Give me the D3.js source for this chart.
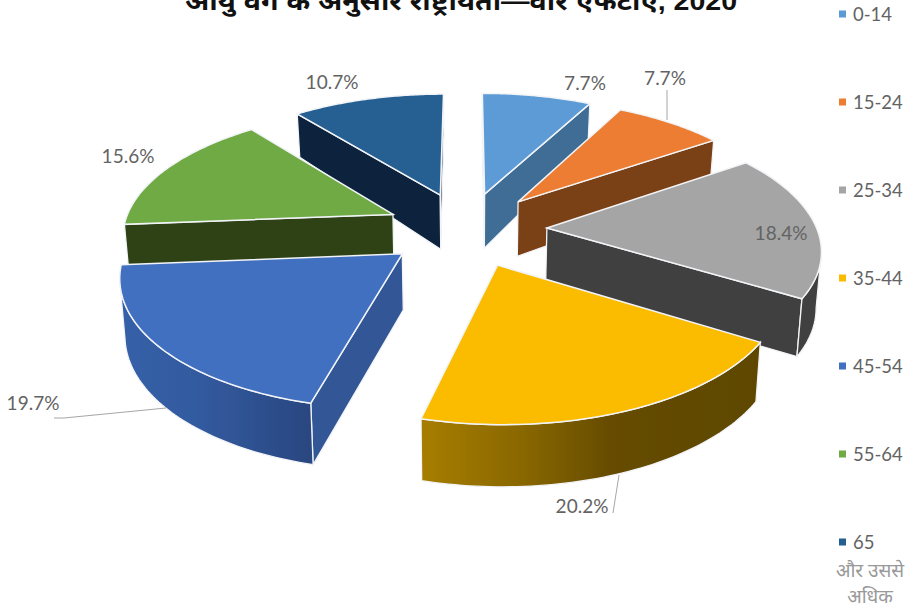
<!DOCTYPE html>
<html>
<head>
<meta charset="utf-8">
<script src="https://cdnjs.cloudflare.com/ajax/libs/d3/7.8.5/d3.min.js"></script>
<style>
  html, body { margin: 0; padding: 0; background: #fff; overflow: hidden; }
  text { font-family: Lato, "Noto Sans", sans-serif; }
</style>
</head>
<body>
<svg width="910" height="612"></svg>
<script>
var categories = ["0-14", "15-24", "25-34", "35-44", "45-54", "55-64", "65"];
var values = [7.7, 7.7, 18.4, 20.2, 19.7, 15.6, 10.7];
var titleText = "आयु वर्ग के अनुसार राष्ट्रीयता—वार एफटीए, 2020";
var lastLegendLines = ["और उससे", "अधिक"];

var topColours = ["#5b9bd5", "#ed7d31", "#a5a5a5", "#fbbc00", "#4270c0", "#6faa45", "#255e91"];
var sideColours = ["#3f6d96", "#7a3f16", "#404040", "#664c00", "#335796", "#2d4319", "#0c233c"];
var labelX = [585, 665, 781, 582, 33, 128, 332];
var labelY = [90, 85, 240, 513, 410, 163, 89];
var drawOrder = [6, 5, 4, 0, 1, 2, 3];

var svg = d3.select("svg");
var cx = 466, cy = 229;
var explode = 0.3, perspective = 0.145;

// pie angles, sorted off so slices stay in data order
var pie = d3.pie().sort(null).value(function(d) { return d; });
var arcs = pie(values);

// ground plane to screen, before the perspective divide
var xScale = d3.scaleLinear().domain([-1, 1]).range([cx - 270, cx + 270]);
var yScale = d3.scaleLinear().domain([-1, 1]).range([cy + 124.7, cy - 124.7]);
// side wall height grows toward the viewer
var depth = d3.scaleLinear().domain([90, 190, 420]).range([40, 54, 62]);

var line = d3.line();

function project(u, v) {
  var s = 1 / (1 + perspective * v);
  return [xScale(u * s), yScale(v * s)];
}

function offsetOf(d) {
  var mid = (d.startAngle + d.endAngle) / 2;
  return [explode * Math.sin(mid), explode * Math.cos(mid)];
}

function apexOf(d) {
  var o = offsetOf(d);
  return project(o[0], o[1]);
}

function rimPoints(d) {
  var o = offsetOf(d);
  return d3.range(61).map(function(i) {
    var a = d.startAngle + (d.endAngle - d.startAngle) * i / 60;
    return project(o[0] + Math.sin(a), o[1] + Math.cos(a));
  });
}

function drop(p) {
  return [p[0] - (p[0] - cx) * 0.015, p[1] + depth(p[1])];
}

var defs = svg.append("defs");
defs.append("filter").attr("id", "soft")
  .append("feGaussianBlur").attr("stdDeviation", 0.45);

function rimGradient(id, stops) {
  var g = defs.append("linearGradient").attr("id", id)
    .attr("gradientUnits", "userSpaceOnUse")
    .attr("x1", stops[0][0]).attr("x2", stops[stops.length - 1][0])
    .attr("y1", 0).attr("y2", 0);
  stops.forEach(function(s) {
    g.append("stop")
      .attr("offset", (s[0] - stops[0][0]) / (stops[stops.length - 1][0] - stops[0][0]))
      .attr("stop-color", s[1]);
  });
}
rimGradient("rimYellow", [[422, "#a67d00"], [520, "#8a6800"], [610, "#664c00"], [760, "#5e4700"]]);
rimGradient("rimBlue", [[120, "#3560a8"], [200, "#335a9f"], [314, "#29467f"]]);

var edge = "#f2f4f7";
var g = svg.append("g").attr("filter", "url(#soft)");

drawOrder.forEach(function(i) {
  var d = arcs[i];
  var apex = apexOf(d);
  var rim = rimPoints(d);
  var first = rim[0], last = rim[rim.length - 1];
  var slice = g.append("g").attr("class", "slice");

  // flat cut faces, only those turned toward the viewer
  if (first[0] < apex[0]) {
    slice.append("path")
      .attr("d", line([apex, first, drop(first), drop(apex)]) + "Z")
      .attr("fill", sideColours[i])
      .attr("stroke", edge).attr("stroke-width", 1.3);
  }
  if (last[0] > apex[0]) {
    slice.append("path")
      .attr("d", line([apex, last, drop(last), drop(apex)]) + "Z")
      .attr("fill", sideColours[i])
      .attr("stroke", edge).attr("stroke-width", 1.3);
  }

  // outer wall: the run of the rim where x falls as the angle grows
  var wall = rim.filter(function(p, k) {
    return k < rim.length - 1 ? rim[k + 1][0] < p[0] : p[0] < rim[k - 1][0];
  });
  if (wall.length > 1) {
    var wallFill = sideColours[i];
    if (i == 3) wallFill = "url(#rimYellow)";
    if (i == 4) wallFill = "url(#rimBlue)";
    slice.append("path")
      .attr("d", line(wall.concat(wall.map(drop).reverse())) + "Z")
      .attr("fill", wallFill)
      .attr("stroke", edge).attr("stroke-width", 1.3);
  }

  slice.append("path")
    .attr("d", line([apex].concat(rim)) + "Z")
    .attr("fill", topColours[i])
    .attr("stroke", edge).attr("stroke-width", 1.5);
});

// leader lines
var leaders = [
  [[667, 90], [667, 120]],
  [[619, 475], [613, 513]],
  [[166, 408], [64, 418], [54, 418]]
];
svg.selectAll(".leader").data(leaders).enter().append("path")
  .attr("class", "leader")
  .attr("d", function(d) { return line(d); })
  .attr("fill", "none")
  .attr("stroke", "#a6a6a6")
  .attr("stroke-width", 1);

// data labels
svg.selectAll(".label").data(values).enter().append("text")
  .attr("class", "label")
  .attr("x", function(d, i) { return labelX[i]; })
  .attr("y", function(d, i) { return labelY[i]; })
  .attr("text-anchor", "middle")
  .attr("font-size", 19)
  .attr("fill", "#636363")
  .text(function(d) { return d.toFixed(1) + "%"; });

// title, clipped by the top of the page as in the source
svg.append("text")
  .attr("x", 185)
  .attr("y", 10)
  .attr("textLength", 552)
  .attr("lengthAdjust", "spacingAndGlyphs")
  .style("font-family", "'Liberation Sans', 'Noto Sans', sans-serif")
  .style("font-weight", "bold")
  .style("font-size", "25.5px")
  .attr("fill", "#111")
  .text(titleText);

// legend
var legendY = d3.scalePoint().domain(categories).range([14, 542]);
var legend = svg.selectAll(".legend").data(categories).enter().append("g")
  .attr("class", "legend")
  .attr("transform", function(d) { return "translate(0," + legendY(d) + ")"; });
legend.append("rect")
  .attr("x", 839).attr("y", -3.5)
  .attr("width", 7).attr("height", 7)
  .attr("fill", function(d, i) { return topColours[i]; });
legend.append("text")
  .attr("x", 853).attr("y", 6.5)
  .attr("font-size", 18.5)
  .attr("fill", "#636363")
  .text(function(d) { return d; });

svg.selectAll(".legend-extra").data(lastLegendLines).enter().append("text")
  .attr("class", "legend-extra")
  .attr("x", 870)
  .attr("y", function(d, i) { return 577 + i * 26; })
  .attr("text-anchor", "middle")
  .attr("font-size", 19)
  .attr("fill", "#999")
  .text(function(d) { return d; });
</script>
</body>
</html>
